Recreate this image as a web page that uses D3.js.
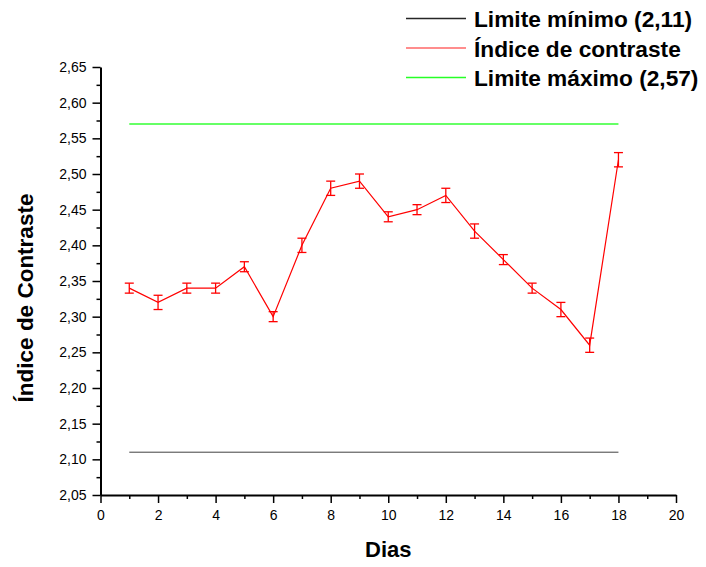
<!DOCTYPE html>
<html>
<head>
<meta charset="utf-8">
<script src="https://cdn.jsdelivr.net/npm/d3@7/dist/d3.min.js"></script>
<style>
  html, body { margin: 0; padding: 0; background: #fff; }
  svg { display: block; font-family: "Liberation Sans", Arial, sans-serif; }
</style>
</head>
<body>
<svg id="chart" width="706" height="567"></svg>
<script>
// Contrast index measured per day, with error bars
const dias = [1, 2, 3, 4, 5, 6, 7, 8, 9, 10, 11, 12, 13, 14, 15, 16, 17, 18];
const indice = [2.34, 2.32, 2.34, 2.34, 2.37, 2.30, 2.40, 2.48, 2.49, 2.44, 2.45, 2.47, 2.42, 2.38, 2.34, 2.31, 2.26, 2.52];
const erro = [0.007, 0.01, 0.007, 0.007, 0.007, 0.007, 0.01, 0.01, 0.01, 0.007, 0.007, 0.01, 0.01, 0.007, 0.007, 0.01, 0.01, 0.01];

const limiteMinimo = 2.11;
const limiteMaximo = 2.57;

const xTicks = [0, 2, 4, 6, 8, 10, 12, 14, 16, 18, 20];
const yTicks = [2.05, 2.10, 2.15, 2.20, 2.25, 2.30, 2.35, 2.40, 2.45, 2.50, 2.55, 2.60, 2.65];

const legendLabels = ["Limite mínimo (2,11)", "Índice de contraste", "Limite máximo (2,57)"];
const legendColors = ["#000000", "#ff0000", "#00ff00"];

const svg = d3.select("#chart");

const x = d3.scaleLinear().domain([0, 20]).range([100.5, 676]);
const y = d3.scaleLinear().domain([2.05, 2.65]).range([495, 67]);

const fmtY = v => d3.format(".2f")(v).replace(".", ",");

// X axis with minor ticks between labelled ones
const xMinor = d3.range(1, 20, 2);
svg.append("g")
  .attr("transform", "translate(0,495)")
  .call(d3.axisBottom(x).tickValues(xMinor).tickSize(4).tickFormat(""))
  .call(g => g.select(".domain").remove())
  .selectAll("line").attr("stroke", "#000").attr("stroke-width", 1.5);

const xAxis = svg.append("g")
  .attr("transform", "translate(0,495)")
  .call(d3.axisBottom(x).tickValues(xTicks).tickSize(8).tickSizeOuter(0).tickPadding(7));
xAxis.select(".domain").attr("stroke", "#000").attr("stroke-width", 2);
xAxis.selectAll(".tick line").attr("stroke", "#000").attr("stroke-width", 1.5);
xAxis.selectAll("text").attr("font-size", 14).attr("fill", "#000")
  .attr("font-family", "Liberation Sans, Arial, sans-serif");

// Y axis with minor ticks
const yMinor = d3.range(0, 12).map(i => 2.075 + i * 0.05);
svg.append("g")
  .attr("transform", "translate(100.5,0)")
  .call(d3.axisLeft(y).tickValues(yMinor).tickSize(4).tickFormat(""))
  .call(g => g.select(".domain").remove())
  .selectAll("line").attr("stroke", "#000").attr("stroke-width", 1.5);

const yAxis = svg.append("g")
  .attr("transform", "translate(100.5,0)")
  .call(d3.axisLeft(y).tickValues(yTicks).tickSize(8).tickSizeOuter(0).tickPadding(6).tickFormat(fmtY));
yAxis.select(".domain").attr("stroke", "#000").attr("stroke-width", 2);
yAxis.selectAll(".tick line").attr("stroke", "#000").attr("stroke-width", 1.5);
yAxis.selectAll("text").attr("font-size", 14).attr("fill", "#000")
  .attr("font-family", "Liberation Sans, Arial, sans-serif");

// Axis titles
svg.append("text")
  .attr("x", (x(0) + x(20)) / 2)
  .attr("y", 557)
  .attr("text-anchor", "middle")
  .attr("font-size", 22).attr("font-weight", "bold")
  .text("Dias");

svg.append("text")
  .attr("transform", `translate(33,${(y(2.05) + y(2.65)) / 2 + 17}) rotate(-90)`)
  .attr("text-anchor", "middle")
  .attr("font-size", 22.5).attr("font-weight", "bold")
  .text("Índice de Contraste");

// Limit lines spanning the measured days
const first = d3.min(dias), last = d3.max(dias);
svg.append("line")
  .attr("x1", x(first)).attr("x2", x(last))
  .attr("y1", y(limiteMinimo)).attr("y2", y(limiteMinimo))
  .attr("stroke", legendColors[0]).attr("stroke-width", 1).attr("stroke-opacity", 0.75);
svg.append("line")
  .attr("x1", x(first)).attr("x2", x(last))
  .attr("y1", y(limiteMaximo)).attr("y2", y(limiteMaximo))
  .attr("stroke", legendColors[2]).attr("stroke-width", 1.5).attr("stroke-opacity", 0.8);

// Contrast index series
const pts = dias.map((d, i) => ({ d, v: indice[i], e: erro[i] }));
svg.append("path")
  .datum(pts)
  .attr("fill", "none")
  .attr("stroke", legendColors[1])
  .attr("stroke-width", 1.2)
  .attr("d", d3.line().x(p => x(p.d)).y(p => y(p.v)));

// Error bars
const eb = svg.append("g").attr("stroke", legendColors[1]).attr("stroke-width", 1.3);
const cap = 4.5;
pts.forEach(p => {
  const cx = x(p.d);
  eb.append("line").attr("x1", cx).attr("x2", cx).attr("y1", y(p.v - p.e)).attr("y2", y(p.v + p.e));
  eb.append("line").attr("x1", cx - cap).attr("x2", cx + cap).attr("y1", y(p.v - p.e)).attr("y2", y(p.v - p.e));
  eb.append("line").attr("x1", cx - cap).attr("x2", cx + cap).attr("y1", y(p.v + p.e)).attr("y2", y(p.v + p.e));
});

// Legend
const legend = svg.append("g");
legendLabels.forEach((lab, i) => {
  const ly = 18.5 + i * 29.5;
  legend.append("line")
    .attr("x1", 406).attr("x2", 466).attr("y1", ly).attr("y2", ly)
    .attr("stroke", legendColors[i]).attr("stroke-width", 1.3)
    .attr("stroke-opacity", i === 1 ? 0.6 : 0.85);
  legend.append("text")
    .attr("x", 474).attr("y", ly + 8.5)
    .attr("font-size", 22.7).attr("font-weight", "bold")
    .text(lab);
});
</script>
</body>
</html>
